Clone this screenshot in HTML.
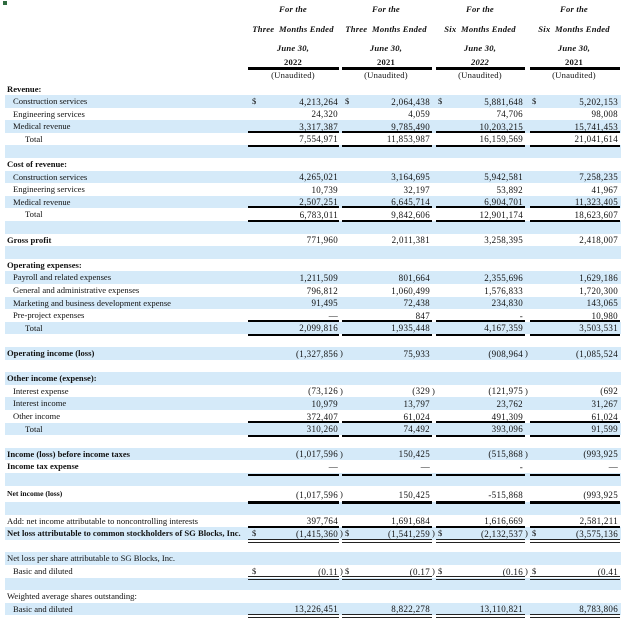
<!DOCTYPE html>
<html><head><meta charset="utf-8"><style>
body{margin:0;width:624px;height:624px;background:#fff;position:relative;overflow:hidden;font-family:"Liberation Serif",serif;font-size:8.6px;color:#111}
.r{position:absolute;left:5px;width:616px;height:12.6px;line-height:12.6px}
.b{background:#d5eaf9}
.l{position:absolute;left:2px;white-space:nowrap}
.i{left:8px}.t{left:20px}
.bd{font-weight:bold}
.n{position:absolute;top:0.5px;white-space:nowrap;text-align:right;letter-spacing:0.3px;font-size:9px}
.c1{right:283px}.c2{right:191px}.c3{right:98px}.c4{right:3px}
.p{position:absolute;top:0}
.p1{left:335px}.p2{left:427px}.p3{left:520px}
.d{position:absolute}
.d1{left:247px}.d2{left:340px}.d3{left:433px}.d4{left:527px}
.k{position:absolute;background:#000}
.h{position:absolute;text-align:center;width:100px;font-size:8.6px;white-space:nowrap;letter-spacing:0.2px}
.hi{font-style:italic;font-weight:bold}
.bar{position:absolute;height:2.6px;background:#000}
.thin{position:absolute;height:1px;background:#222}
</style></head><body>
<div style="position:absolute;left:3px;top:1px;width:4px;height:4px;background:#2f6b3f"></div>

<div class="h hi" style="left:243px;top:4px">For the</div>
<div class="h hi" style="left:336px;top:4px">For the</div>
<div class="h hi" style="left:430px;top:4px">For the</div>
<div class="h hi" style="left:524px;top:4px">For the</div>
<div class="h hi" style="left:243px;top:24px">Three&nbsp; Months Ended</div>
<div class="h hi" style="left:336px;top:24px">Three&nbsp; Months Ended</div>
<div class="h hi" style="left:430px;top:24px">Six&nbsp; Months Ended</div>
<div class="h hi" style="left:524px;top:24px">Six&nbsp; Months Ended</div>
<div class="h hi" style="left:243px;top:43px">June 30,</div>
<div class="h hi" style="left:336px;top:43px">June 30,</div>
<div class="h hi" style="left:430px;top:43px">June 30,</div>
<div class="h hi" style="left:524px;top:43px">June 30,</div>
<div class="h bd" style="left:243px;top:57px">2022</div>
<div class="h bd" style="left:336px;top:57px">2021</div>
<div class="h hi" style="left:430px;top:57px">2022</div>
<div class="h bd" style="left:524px;top:57px">2021</div>
<div class="k" style="left:248px;top:67px;width:91px;height:3px"></div>
<div class="k" style="left:342px;top:67px;width:90px;height:3px"></div>
<div class="k" style="left:436px;top:67px;width:89px;height:3px"></div>
<div class="k" style="left:530px;top:67px;width:90px;height:3px"></div>
<div class="h" style="left:243px;top:70px">(Unaudited)</div>
<div class="h" style="left:336px;top:70px">(Unaudited)</div>
<div class="h" style="left:430px;top:70px">(Unaudited)</div>
<div class="h" style="left:524px;top:70px">(Unaudited)</div>

<div class="r" style="top:83px"><span class="l bd">Revenue:</span></div>
<div class="r b" style="top:95px"><span class="l i">Construction services</span><span class="d d1">$</span><span class="n c1">4,213,264</span><span class="d d2">$</span><span class="n c2">2,064,438</span><span class="d d3">$</span><span class="n c3">5,881,648</span><span class="d d4">$</span><span class="n c4">5,202,153</span></div>
<div class="r" style="top:107.6px"><span class="l i">Engineering services</span><span class="n c1">24,320</span><span class="n c2">4,059</span><span class="n c3">74,706</span><span class="n c4">98,008</span></div>
<div class="r b" style="top:120.2px"><span class="l i">Medical revenue</span><span class="n c1">3,317,387</span><span class="n c2">9,785,490</span><span class="n c3">10,203,215</span><span class="n c4">15,741,453</span></div>
<div class="r" style="top:132.8px"><span class="l t">Total</span><span class="n c1">7,554,971</span><span class="n c2">11,853,987</span><span class="n c3">16,159,569</span><span class="n c4">21,041,614</span></div>
<div class="r b" style="top:145.4px"></div>

<div class="r" style="top:158px"><span class="l bd">Cost of revenue:</span></div>
<div class="r b" style="top:170.6px"><span class="l i">Construction services</span><span class="n c1">4,265,021</span><span class="n c2">3,164,695</span><span class="n c3">5,942,581</span><span class="n c4">7,258,235</span></div>
<div class="r" style="top:183.2px"><span class="l i">Engineering services</span><span class="n c1">10,739</span><span class="n c2">32,197</span><span class="n c3">53,892</span><span class="n c4">41,967</span></div>
<div class="r b" style="top:195.8px"><span class="l i">Medical revenue</span><span class="n c1">2,507,251</span><span class="n c2">6,645,714</span><span class="n c3">6,904,701</span><span class="n c4">11,323,405</span></div>
<div class="r" style="top:208.4px"><span class="l t">Total</span><span class="n c1">6,783,011</span><span class="n c2">9,842,606</span><span class="n c3">12,901,174</span><span class="n c4">18,623,607</span></div>
<div class="r b" style="top:221px"></div>
<div class="r" style="top:233.6px"><span class="l bd">Gross profit</span><span class="n c1">771,960</span><span class="n c2">2,011,381</span><span class="n c3">3,258,395</span><span class="n c4">2,418,007</span></div>
<div class="r b" style="top:246.2px"></div>

<div class="r" style="top:258.8px"><span class="l bd">Operating expenses:</span></div>
<div class="r b" style="top:271.4px"><span class="l i">Payroll and related expenses</span><span class="n c1">1,211,509</span><span class="n c2">801,664</span><span class="n c3">2,355,696</span><span class="n c4">1,629,186</span></div>
<div class="r" style="top:284px"><span class="l i">General and administrative expenses</span><span class="n c1">796,812</span><span class="n c2">1,060,499</span><span class="n c3">1,576,833</span><span class="n c4">1,720,300</span></div>
<div class="r b" style="top:296.6px"><span class="l i">Marketing and business development expense</span><span class="n c1">91,495</span><span class="n c2">72,438</span><span class="n c3">234,830</span><span class="n c4">143,065</span></div>
<div class="r" style="top:309.2px"><span class="l i">Pre-project expenses</span><span class="n c1">—</span><span class="n c2">847</span><span class="n c3">-</span><span class="n c4">10,980</span></div>
<div class="r b" style="top:321.8px"><span class="l t">Total</span><span class="n c1">2,099,816</span><span class="n c2">1,935,448</span><span class="n c3">4,167,359</span><span class="n c4">3,503,531</span></div>
<div class="r b" style="top:347px"><span class="l bd">Operating income (loss)</span><span class="n c1">(1,327,856</span><span class="p p1">)</span><span class="n c2">75,933</span><span class="n c3">(908,964</span><span class="p p3">)</span><span class="n c4">(1,085,524</span></div>

<div class="r b" style="top:372.2px"><span class="l bd">Other income (expense):</span></div>
<div class="r" style="top:384.8px"><span class="l i">Interest expense</span><span class="n c1">(73,126</span><span class="p p1">)</span><span class="n c2">(329</span><span class="p p2">)</span><span class="n c3">(121,975</span><span class="p p3">)</span><span class="n c4">(692</span></div>
<div class="r b" style="top:397.4px"><span class="l i">Interest income</span><span class="n c1">10,979</span><span class="n c2">13,797</span><span class="n c3">23,762</span><span class="n c4">31,267</span></div>
<div class="r" style="top:410px"><span class="l i">Other income</span><span class="n c1">372,407</span><span class="n c2">61,024</span><span class="n c3">491,309</span><span class="n c4">61,024</span></div>
<div class="r b" style="top:422.6px"><span class="l t">Total</span><span class="n c1">310,260</span><span class="n c2">74,492</span><span class="n c3">393,096</span><span class="n c4">91,599</span></div>
<div class="r b" style="top:447.8px"><span class="l bd">Income (loss) before income taxes</span><span class="n c1">(1,017,596</span><span class="p p1">)</span><span class="n c2">150,425</span><span class="n c3">(515,868</span><span class="p p3">)</span><span class="n c4">(993,925</span></div>
<div class="r" style="top:460.4px"><span class="l bd">Income tax expense</span><span class="n c1">—</span><span class="n c2">—</span><span class="n c3">-</span><span class="n c4">—</span></div>
<div class="r b" style="top:473px"></div>
<div class="r" style="top:488px"><span class="l bd" style="font-size:7.6px">Net income (loss)</span><span class="n c1">(1,017,596</span><span class="p p1">)</span><span class="n c2">150,425</span><span class="n c3">-515,868</span><span class="n c4">(993,925</span></div>
<div class="r b" style="top:502px"></div>
<div class="r" style="top:514.6px"><span class="l">Add: net income attributable to noncontrolling interests</span><span class="n c1">397,764</span><span class="n c2">1,691,684</span><span class="n c3">1,616,669</span><span class="n c4">2,581,211</span></div>
<div class="r b" style="top:527.2px"><span class="l bd">Net loss attributable to common stockholders of SG Blocks, Inc.</span><span class="d d1">$</span><span class="n c1">(1,415,360</span><span class="p p1">)</span><span class="d d2">$</span><span class="n c2">(1,541,259</span><span class="p p2">)</span><span class="d d3">$</span><span class="n c3">(2,132,537</span><span class="p p3">)</span><span class="d d4">$</span><span class="n c4">(3,575,136</span></div>
<div class="r b" style="top:552.4px"><span class="l">Net loss per share attributable to SG Blocks, Inc.</span></div>
<div class="r" style="top:565px"><span class="l i">Basic and diluted</span><span class="d d1">$</span><span class="n c1">(0.11</span><span class="p p1">)</span><span class="d d2">$</span><span class="n c2">(0.17</span><span class="p p2">)</span><span class="d d3">$</span><span class="n c3">(0.16</span><span class="p p3">)</span><span class="d d4">$</span><span class="n c4">(0.41</span></div>
<div class="r b" style="top:577.6px"></div>
<div class="r" style="top:590.2px"><span class="l">Weighted average shares outstanding:</span></div>
<div class="r b" style="top:602.8px"><span class="l i">Basic and diluted</span><span class="n c1">13,226,451</span><span class="n c2">8,822,278</span><span class="n c3">13,110,821</span><span class="n c4">8,783,806</span></div>

<div class="bar" style="left:248px;width:91px;top:130.5px"></div><div class="bar" style="left:342px;width:90px;top:130.5px"></div><div class="bar" style="left:436px;width:89px;top:130.5px"></div><div class="bar" style="left:530px;width:90px;top:130.5px"></div>
<div class="bar" style="left:248px;width:91px;top:144.5px"></div><div class="bar" style="left:342px;width:90px;top:144.5px"></div><div class="bar" style="left:436px;width:89px;top:144.5px"></div><div class="bar" style="left:530px;width:90px;top:144.5px"></div>
<div class="bar" style="left:248px;width:91px;top:205.5px"></div><div class="bar" style="left:342px;width:90px;top:205.5px"></div><div class="bar" style="left:436px;width:89px;top:205.5px"></div><div class="bar" style="left:530px;width:90px;top:205.5px"></div>
<div class="bar" style="left:248px;width:91px;top:219.5px"></div><div class="bar" style="left:342px;width:90px;top:219.5px"></div><div class="bar" style="left:436px;width:89px;top:219.5px"></div><div class="bar" style="left:530px;width:90px;top:219.5px"></div>
<div class="bar" style="left:248px;width:91px;top:319.5px"></div><div class="bar" style="left:342px;width:90px;top:319.5px"></div><div class="bar" style="left:436px;width:89px;top:319.5px"></div><div class="bar" style="left:530px;width:90px;top:319.5px"></div>
<div class="bar" style="left:248px;width:91px;top:333.5px"></div><div class="bar" style="left:342px;width:90px;top:333.5px"></div><div class="bar" style="left:436px;width:89px;top:333.5px"></div><div class="bar" style="left:530px;width:90px;top:333.5px"></div>
<div class="bar" style="left:248px;width:91px;top:420.5px"></div><div class="bar" style="left:342px;width:90px;top:420.5px"></div><div class="bar" style="left:436px;width:89px;top:420.5px"></div><div class="bar" style="left:530px;width:90px;top:420.5px"></div>
<div class="bar" style="left:248px;width:91px;top:434.5px"></div><div class="bar" style="left:342px;width:90px;top:434.5px"></div><div class="bar" style="left:436px;width:89px;top:434.5px"></div><div class="bar" style="left:530px;width:90px;top:434.5px"></div>
<div class="bar" style="left:248px;width:91px;top:473.5px"></div><div class="bar" style="left:342px;width:90px;top:473.5px"></div><div class="bar" style="left:436px;width:89px;top:473.5px"></div><div class="bar" style="left:530px;width:90px;top:473.5px"></div>
<div class="bar" style="left:248px;width:91px;top:501px"></div><div class="bar" style="left:342px;width:90px;top:501px"></div><div class="bar" style="left:436px;width:89px;top:501px"></div><div class="bar" style="left:530px;width:90px;top:501px"></div>
<div class="bar" style="left:248px;width:91px;top:525.5px"></div><div class="bar" style="left:342px;width:90px;top:525.5px"></div><div class="bar" style="left:436px;width:89px;top:525.5px"></div><div class="bar" style="left:530px;width:90px;top:525.5px"></div>
<div class="thin" style="left:248px;width:91px;top:539px"></div><div class="thin" style="left:342px;width:90px;top:539px"></div><div class="thin" style="left:436px;width:89px;top:539px"></div><div class="thin" style="left:530px;width:90px;top:539px"></div>
<div class="thin" style="left:248px;width:91px;top:542px"></div><div class="thin" style="left:342px;width:90px;top:542px"></div><div class="thin" style="left:436px;width:89px;top:542px"></div><div class="thin" style="left:530px;width:90px;top:542px"></div>
<div class="thin" style="left:248px;width:91px;top:576px"></div><div class="thin" style="left:342px;width:90px;top:576px"></div><div class="thin" style="left:436px;width:89px;top:576px"></div><div class="thin" style="left:530px;width:90px;top:576px"></div>
<div class="thin" style="left:248px;width:91px;top:579px"></div><div class="thin" style="left:342px;width:90px;top:579px"></div><div class="thin" style="left:436px;width:89px;top:579px"></div><div class="thin" style="left:530px;width:90px;top:579px"></div>
<div class="thin" style="left:248px;width:91px;top:614px"></div><div class="thin" style="left:342px;width:90px;top:614px"></div><div class="thin" style="left:436px;width:89px;top:614px"></div><div class="thin" style="left:530px;width:90px;top:614px"></div>
<div class="thin" style="left:248px;width:91px;top:617px"></div><div class="thin" style="left:342px;width:90px;top:617px"></div><div class="thin" style="left:436px;width:89px;top:617px"></div><div class="thin" style="left:530px;width:90px;top:617px"></div>
</body></html>
